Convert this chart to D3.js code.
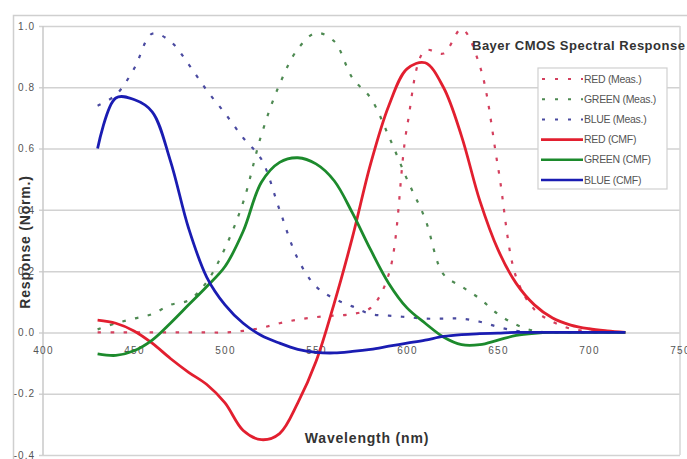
<!DOCTYPE html>
<html>
<head>
<meta charset="utf-8">
<script src="https://cdn.jsdelivr.net/npm/d3@7"></script>
<style>
    body { margin: 0; background: #fff; }
    svg text { font-family: "Liberation Sans", Arial, sans-serif; }
</style>
</head>
<body>
<div id="chart"></div>
<script>
// wavelengths (nm) the curves are sampled at
const wavelength = [430, 440, 450, 460, 470, 480, 490, 500, 510, 520,
                    530, 540, 550, 560, 570, 580, 590, 600, 610, 620,
                    630, 640, 650, 660, 670, 680, 690, 700, 710, 720];

// measured responses
const redMeas   = [0, 0, 0, 0, 0, 0, 0, 0, 0.005, 0.015,
                   0.03, 0.042, 0.05, 0.055, 0.06, 0.08, 0.19, 0.67, 0.92, 0.91,
                   0.99, 0.87, 0.54, 0.18, 0.075, 0.035, 0.012, 0.004, 0, 0];
const greenMeas = [0.01, 0.03, 0.045, 0.06, 0.09, 0.105, 0.165, 0.275, 0.425, 0.645,
                   0.81, 0.925, 0.977, 0.95, 0.83, 0.765, 0.64, 0.50, 0.37, 0.19,
                   0.15, 0.11, 0.06, 0.025, 0.005, 0, 0, 0, 0, 0];
const blueMeas  = [0.74, 0.775, 0.86, 0.975, 0.95, 0.875, 0.79, 0.715, 0.635, 0.565,
                   0.40, 0.24, 0.15, 0.11, 0.085, 0.06, 0.055, 0.05, 0.045, 0.045,
                   0.045, 0.035, 0.018, 0.005, 0, 0, 0, 0, 0, 0];

// colour matching functions
const redCMF   = [0.04, 0.03, 0.005, -0.035, -0.085, -0.13, -0.17, -0.23, -0.32, -0.35,
                  -0.33, -0.23, -0.095, 0.095, 0.31, 0.55, 0.74, 0.86, 0.88, 0.80,
                  0.64, 0.43, 0.27, 0.16, 0.09, 0.047, 0.024, 0.012, 0.005, 0];
const greenCMF = [-0.07, -0.075, -0.06, -0.025, 0.03, 0.09, 0.15, 0.215, 0.33, 0.49,
                  0.555, 0.57, 0.55, 0.495, 0.39, 0.27, 0.16, 0.08, 0.03, -0.015,
                  -0.04, -0.04, -0.025, -0.01, -0.003, 0, 0, 0, 0, 0];
const blueCMF  = [0.60, 0.765, 0.76, 0.72, 0.56, 0.34, 0.18, 0.09, 0.03, -0.01,
                  -0.035, -0.055, -0.065, -0.067, -0.062, -0.055, -0.045, -0.035, -0.025, -0.013,
                  -0.007, -0.004, -0.002, 0, 0, 0, 0, 0, 0, 0];

const seriesNames = ["RED (Meas.)", "GREEN (Meas.)", "BLUE (Meas.)", "RED (CMF)", "GREEN (CMF)", "BLUE (CMF)"];
const xTicks = [400, 450, 500, 550, 600, 650, 700, 750];
const yTicks = [-0.4, -0.2, 0.0, 0.2, 0.4, 0.6, 0.8, 1.0];

let margin = {top: 26, right: 7, bottom: 4, left: 43}
let width = 687 - margin.left - margin.right, height = 459 - margin.top - margin.bottom;

let series = [
    {name: seriesNames[0], values: redMeas,   color: "#d4405e", dashed: true},
    {name: seriesNames[1], values: greenMeas, color: "#4e8a52", dashed: true},
    {name: seriesNames[2], values: blueMeas,  color: "#4a4aa0", dashed: true},
    {name: seriesNames[3], values: redCMF,    color: "#e21f2f", dashed: false},
    {name: seriesNames[4], values: greenCMF,  color: "#1c8a2c", dashed: false},
    {name: seriesNames[5], values: blueCMF,   color: "#1a1cb2", dashed: false}
]

let root = d3.select("#chart").append("svg")
    .attr("width", 687)
    .attr("height", 459)

// outer chart frame (only top/left edge fall inside the picture)
root.append("rect")
    .attr("x", 13.5).attr("y", 15.5)
    .attr("width", 700).attr("height", 500)
    .attr("fill", "none")
    .attr("stroke", "#cfcfcf")
    .attr("stroke-width", 1.5)

let svg = root.append("g")
    .attr("transform", `translate(${margin.left}, ${margin.top})`)

let xScale = d3.scaleLinear().domain([400, 750]).range([0, width])
let yScale = d3.scaleLinear().domain([-0.4, 1.0]).range([height, 0])

// horizontal grid + left axis
let yAxis = d3.axisLeft(yScale)
    .tickValues(yTicks)
    .tickSize(-width)
    .tickPadding(8)
    .tickFormat(d => d.toFixed(1).replace("\u2212", "-"))

let yg = svg.append("g").attr("class", "y-axis").call(yAxis)
yg.select(".domain").remove()
yg.selectAll(".tick line")
    .attr("x1", -4)
    .attr("stroke", "#d2d2d2")
    .attr("stroke-width", 1.5)
yg.selectAll(".tick text")
    .attr("fill", "#555")
    .style("font-size", "10px")
    .style("letter-spacing", "1px")

// plot border left/right
svg.append("line").attr("x1", 0).attr("x2", 0).attr("y1", 0).attr("y2", height)
    .attr("stroke", "#c8c8c8").attr("stroke-width", 1.5)
svg.append("line").attr("x1", width).attr("x2", width).attr("y1", 0).attr("y2", height)
    .attr("stroke", "#d6d6d6").attr("stroke-width", 1.5)

// x axis sits on the zero line
let xAxis = d3.axisBottom(xScale)
    .tickValues(xTicks)
    .tickSize(0)
    .tickPadding(14)
    .tickFormat(d3.format("d"))

let xg = svg.append("g")
    .attr("class", "x-axis")
    .attr("transform", `translate(0, ${yScale(0)})`)
    .call(xAxis)
xg.select(".domain").remove()
xg.selectAll(".tick text")
    .attr("fill", "#555")
    .style("font-size", "10px")
    .style("letter-spacing", "1.2px")

// curves
let line = d3.line()
    .x((d, i) => xScale(wavelength[i]))
    .y(d => yScale(d))
    .curve(d3.curveCatmullRom.alpha(0.5))

svg.selectAll(".series")
    .data(series)
    .enter().append("path")
    .attr("class", "series")
    .attr("d", d => line(d.values))
    .attr("fill", "none")
    .attr("stroke", d => d.color)
    .attr("stroke-width", d => d.dashed ? 2.2 : 2.8)
    .attr("stroke-dasharray", d => d.dashed ? "3.5,9.5" : null)
    .attr("stroke-linejoin", "round")

// legend
let legend = root.append("g").attr("transform", "translate(538, 68)")
legend.append("rect")
    .attr("width", 129).attr("height", 121)
    .attr("fill", "#fff")
    .attr("stroke", "#d0d0d0")
    .attr("stroke-width", 1.2)

let item = legend.selectAll(".legend")
    .data(series)
    .enter().append("g")
    .attr("class", "legend")
    .attr("transform", (d, i) => `translate(0, ${11 + i * 20.2})`)

item.append("line")
    .attr("x1", 3).attr("x2", 45)
    .attr("stroke", d => d.color)
    .attr("stroke-width", d => d.dashed ? 2 : 2.6)
    .attr("stroke-dasharray", d => d.dashed ? "3,10" : null)
    .attr("stroke-dashoffset", -1)

item.append("text")
    .attr("x", 46)
    .attr("dy", "0.35em")
    .attr("fill", "#555")
    .style("font-size", "10.5px")
    .style("letter-spacing", "-0.3px")
    .text(d => d.name)

// titles
root.append("text")
    .attr("x", 472).attr("y", 50)
    .attr("fill", "#333")
    .style("font-size", "13px")
    .style("font-weight", "bold")
    .style("letter-spacing", "0.5px")
    .text("Bayer CMOS Spectral Response")

root.append("text")
    .attr("x", 367).attr("y", 443)
    .attr("text-anchor", "middle")
    .attr("fill", "#333")
    .style("font-size", "14px")
    .style("font-weight", "bold")
    .style("letter-spacing", "0.8px")
    .text("Wavelength (nm)")

root.append("text")
    .attr("transform", "translate(30, 242) rotate(-90)")
    .attr("text-anchor", "middle")
    .attr("fill", "#333")
    .style("font-size", "14px")
    .style("font-weight", "bold")
    .style("letter-spacing", "0.8px")
    .text("Response (Norm.)")
</script>
</body>
</html>
